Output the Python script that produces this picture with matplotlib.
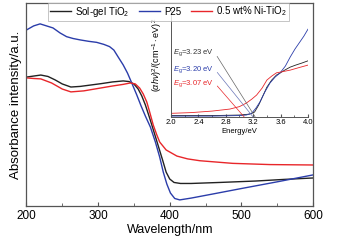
import matplotlib
matplotlib.use("Agg")
import matplotlib.pyplot as plt
from matplotlib.ticker import MultipleLocator

plt.rcParams['font.family'] = ['Liberation Sans', 'DejaVu Sans']
plt.rcParams['mathtext.fontset'] = 'custom'
plt.rcParams['mathtext.rm'] = 'Liberation Sans'
plt.rcParams['mathtext.it'] = 'Liberation Sans:italic'

# main spectra (wavelength in nm, absorbance in a.u.)
wl_p25 = [200, 210, 219, 228, 237, 247, 256, 265, 275, 287, 298, 308, 316, 322, 328,
          335, 341, 347, 354, 360, 366, 373, 380, 386, 391, 396, 401, 407, 414, 430,
          460, 500, 550, 600]
abs_p25 = [0.867, 0.887, 0.897, 0.887, 0.877, 0.852, 0.834, 0.825, 0.818, 0.811, 0.806,
           0.796, 0.785, 0.768, 0.734, 0.695, 0.655, 0.606, 0.547, 0.493, 0.443, 0.389,
           0.315, 0.241, 0.167, 0.108, 0.064, 0.037, 0.030, 0.039, 0.059, 0.086, 0.119,
           0.153]

wl_sg = [200, 210, 220, 230, 240, 250, 262, 275, 290, 305, 320, 335, 343, 350, 356,
         361, 366, 372, 378, 384, 390, 395, 400, 406, 415, 430, 470, 520, 560, 600]
abs_sg = [0.635, 0.640, 0.645, 0.638, 0.621, 0.601, 0.586, 0.589, 0.596, 0.603, 0.611,
          0.616, 0.613, 0.601, 0.576, 0.542, 0.498, 0.433, 0.365, 0.296, 0.227, 0.167,
          0.133, 0.116, 0.111, 0.111, 0.116, 0.123, 0.131, 0.138]

wl_ni = [200, 210, 220, 235, 250, 262, 280, 300, 320, 335, 345, 352, 358, 363, 368,
         372, 377, 382, 386, 395, 410, 425, 442, 488, 540, 600]
abs_ni = [0.631, 0.628, 0.626, 0.606, 0.576, 0.562, 0.567, 0.579, 0.591, 0.599, 0.606,
          0.601, 0.581, 0.552, 0.512, 0.463, 0.399, 0.350, 0.315, 0.276, 0.246, 0.232,
          0.223, 0.210, 0.204, 0.202]

# Tauc plot inset (energy in eV)
e_p25 = [2.0, 2.6, 3.0, 3.1, 3.18, 3.24, 3.30, 3.37, 3.445, 3.52, 3.59, 3.67, 3.74,
         3.81, 3.88, 3.94, 4.0]
t_p25 = [0.009, 0.009, 0.014, 0.019, 0.037, 0.084, 0.143, 0.234, 0.318, 0.374, 0.411,
         0.477, 0.561, 0.636, 0.701, 0.757, 0.822]
e_sg = [2.0, 2.6, 3.0, 3.15, 3.22, 3.28, 3.34, 3.40, 3.47, 3.54, 3.59, 3.66, 3.74,
        3.82, 3.91, 4.0]
t_sg = [0.014, 0.014, 0.019, 0.028, 0.047, 0.112, 0.196, 0.280, 0.346, 0.393, 0.411,
        0.439, 0.467, 0.486, 0.505, 0.526]
e_ni = [2.0, 2.3, 2.6, 2.86, 3.0, 3.1, 3.18, 3.25, 3.33, 3.40, 3.47, 3.54, 3.6, 3.67,
        3.74, 3.87, 4.0]
t_ni = [0.035, 0.042, 0.056, 0.075, 0.098, 0.131, 0.168, 0.206, 0.271, 0.346, 0.383,
        0.414, 0.421, 0.430, 0.439, 0.463, 0.486]

eg_values = [3.23, 3.20, 3.07]
eg_labels = ['3.23', '3.20', '3.07']

c_black = '#222222'
c_blue = '#2b3daa'
c_red = '#e8262a'

fig = plt.figure(figsize=(3.37, 2.47), dpi=100)
ax = fig.add_axes([0.0786, 0.166, 0.850, 0.822])

ax.plot(wl_sg, abs_sg, color=c_black, lw=1.0, label='Sol-gel TiO$_2$')
ax.plot(wl_p25, abs_p25, color=c_blue, lw=1.0, label='P25')
ax.plot(wl_ni, abs_ni, color=c_red, lw=1.0, label='0.5 wt% Ni-TiO$_2$')

ax.set_xlim(200, 600)
ax.set_ylim(0, 1)
ax.xaxis.set_major_locator(MultipleLocator(100))
ax.xaxis.set_minor_locator(MultipleLocator(50))
ax.set_yticks([])
ax.tick_params(axis='x', which='both', direction='in', labelsize=8.5, pad=3,
               color='#555555')
ax.tick_params(axis='x', which='major', length=3)
ax.tick_params(axis='x', which='minor', length=2)
for s in ax.spines.values():
    s.set_color('#555555')
    s.set_linewidth(0.9)
ax.set_xlabel('Wavelength/nm', fontsize=9, labelpad=1)
ax.set_ylabel('Absorbance intensity/a.u.', fontsize=9.5, labelpad=3)

leg = fig.legend(loc='center', bbox_to_anchor=(0.5, 0.953), ncol=3, fontsize=7,
                 frameon=True, fancybox=False, edgecolor='#aaaaaa',
                 handlelength=2.2, handletextpad=0.4, columnspacing=1.0,
                 borderpad=0.2, borderaxespad=0)
leg.get_frame().set_linewidth(0.6)

# inset
ins = fig.add_axes([0.5074, 0.526, 0.4065, 0.433])
ins.patch.set_alpha(0)
ins.plot(e_sg, t_sg, color=c_black, lw=0.6)
ins.plot(e_p25, t_p25, color=c_blue, lw=0.6)
ins.plot(e_ni, t_ni, color=c_red, lw=0.6)
ins.set_xlim(2.0, 4.0)
ins.set_ylim(0, 1)
ins.xaxis.set_major_locator(MultipleLocator(0.4))
ins.xaxis.set_minor_locator(MultipleLocator(0.2))
ins.xaxis.set_major_formatter(plt.FormatStrFormatter('%.1f'))
ins.set_yticks([])
ins.tick_params(axis='x', which='both', direction='in', labelsize=5.5, pad=1.5,
                color='#555555')
ins.tick_params(axis='x', which='major', length=2)
ins.tick_params(axis='x', which='minor', length=1.2)
ins.spines['top'].set_visible(False)
ins.spines['right'].set_visible(False)
for side in ['left', 'bottom']:
    ins.spines[side].set_color('#555555')
    ins.spines[side].set_linewidth(0.7)
ins.set_xlabel('Energy/eV', fontsize=5.5, labelpad=1)
ins.set_ylabel(r'$(\mathit{\alpha h\nu})^2/(\mathrm{cm^{-1}\cdot eV})^2$', fontsize=6.5)
ins.yaxis.set_label_coords(-0.05, 0.58)

label_colors = ['#333333', c_blue, c_red]
line_colors = ['#666666', '#6a76b8', c_red]
label_y = [0.60, 0.44, 0.31]
for eg, lab, tc, lc, ty in zip(eg_values, eg_labels, label_colors, line_colors, label_y):
    ins.annotate(r'$\mathit{E}_\mathrm{g}$=' + lab + ' eV', xy=(eg, 0.0),
                 xycoords='data', xytext=(0.012, ty), textcoords='axes fraction',
                 fontsize=5.5, color=tc, ha='left', va='center',
                 arrowprops=dict(arrowstyle='-', color=lc, lw=0.5,
                                 relpos=(1.0, 0.7), shrinkA=1, shrinkB=0))

fig.savefig('out.png', dpi=100)
